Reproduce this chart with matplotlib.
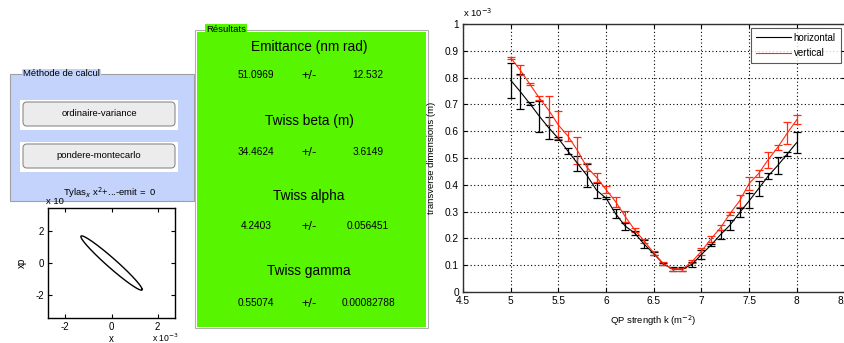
import numpy as np
import matplotlib
matplotlib.use("Agg")
import matplotlib.pyplot as plt
from matplotlib.patches import Rectangle, FancyBboxPatch

plt.rcParams['font.family'] = ['Liberation Sans', 'DejaVu Sans']
plt.rcParams['axes.unicode_minus'] = False

# ---- scan data: beam size vs quadrupole strength (units of 1e-3 m) ----
k_values = [5.0, 5.1, 5.2, 5.3, 5.4, 5.5, 5.6, 5.7, 5.8, 5.9, 6.0,
            6.1, 6.2, 6.3, 6.4, 6.5, 6.6, 6.7, 6.8, 6.9, 7.0,
            7.1, 7.2, 7.3, 7.4, 7.5, 7.6, 7.7, 7.8, 7.9, 8.0]
size_h = [0.790, 0.748, 0.703, 0.656, 0.612, 0.573, 0.526, 0.480, 0.435, 0.380, 0.350,
          0.292, 0.246, 0.220, 0.178, 0.143, 0.105, 0.085, 0.085, 0.103, 0.140,
          0.175, 0.214, 0.250, 0.296, 0.340, 0.386, 0.433, 0.472, 0.515, 0.558]
err_h = [0.066, 0.067, 0.006, 0.058, 0.040, 0.007, 0.010, 0.027, 0.042, 0.028, 0.004,
         0.017, 0.013, 0.009, 0.015, 0.005, 0.004, 0.008, 0.008, 0.009, 0.016,
         0.003, 0.017, 0.020, 0.017, 0.028, 0.028, 0.010, 0.032, 0.008, 0.038]
size_v = [0.874, 0.828, 0.776, 0.724, 0.678, 0.623, 0.582, 0.528, 0.465, 0.428, 0.382,
          0.337, 0.282, 0.232, 0.190, 0.146, 0.106, 0.085, 0.085, 0.113, 0.152,
          0.198, 0.240, 0.293, 0.340, 0.405, 0.442, 0.494, 0.540, 0.593, 0.643]
err_v = [0.004, 0.020, 0.005, 0.008, 0.054, 0.052, 0.020, 0.052, 0.015, 0.017, 0.014,
         0.019, 0.022, 0.008, 0.008, 0.008, 0.006, 0.006, 0.006, 0.006, 0.014,
         0.011, 0.010, 0.007, 0.022, 0.025, 0.012, 0.030, 0.010, 0.042, 0.017]
series_labels = ["horizontal", "vertical"]

# ---- fitted results ----
result_titles = ["Emittance (nm rad)", "Twiss beta (m)", "Twiss alpha", "Twiss gamma"]
result_values = ["51.0969", "34.4624", "4.2403", "0.55074"]
result_errors = ["12.532", "3.6149", "0.056451", "0.00082788"]
emittance_nm = 51.0969
beta_m = 34.4624
alpha_tw = 4.2403

method_buttons = ["ordinaire-variance", "pondere-montecarlo"]

W, H = 844, 343
fig = plt.figure(figsize=(W / 100, H / 100), dpi=100)

# background layer in pixel coordinates for the GUI panels
bg = fig.add_axes([0, 0, 1, 1])
bg.set_xlim(0, W)
bg.set_ylim(H, 0)
bg.axis('off')

# "Méthode de calcul" panel
bg.add_patch(Rectangle((10, 74), 184, 127, facecolor='#c3d3fb', edgecolor='#a0a0a0', lw=0.8))
bg.text(23, 74, "Méthode de calcul", fontsize=6.8, va='center', ha='left',
        bbox=dict(facecolor='#c3d3fb', edgecolor='none', pad=0.5))
for i, lab in enumerate(method_buttons):
    y0 = 101 + i * 42
    bg.add_patch(Rectangle((20, y0 - 1.5), 158, 30, facecolor='white', edgecolor='none'))
    bg.add_patch(FancyBboxPatch((23, y0 + 1), 152, 24,
                                boxstyle="round,pad=0,rounding_size=4",
                                facecolor='#ececec', edgecolor='#8a8a8a', lw=0.8))
    bg.text(99, y0 + 13, lab, fontsize=6.8, ha='center', va='center')

# "Résultats" panel
bg.add_patch(Rectangle((195, 30), 233, 298, facecolor='white', edgecolor='#b0b0b0', lw=0.8))
bg.add_patch(Rectangle((197, 32), 229, 295, facecolor='#57f500', edgecolor='none'))
bg.text(206, 29, "Résultats", fontsize=6.8, va='center', ha='left',
        bbox=dict(facecolor='#57f500', edgecolor='none', pad=0.5))
title_y = [47, 121, 196, 271]
row_y = [75, 152, 226, 303]
for t, v, e, ty, ry in zip(result_titles, result_values, result_errors, title_y, row_y):
    bg.text(309, ty, t, fontsize=9.8, ha='center', va='center')
    bg.text(256, ry, v, fontsize=7.3, ha='center', va='center')
    bg.text(309, ry + 1, "+/-", fontsize=9.3, ha='center', va='center')
    bg.text(368, ry, e, fontsize=7.3, ha='center', va='center')

# ---- phase-space ellipse from the Twiss parameters ----
ax_e = fig.add_axes([48 / W, 1 - 318 / H, 127 / W, 110 / H])
eps = emittance_nm * 1e-9
t = np.linspace(0, 2 * np.pi, 400)
x_e = np.sqrt(eps * beta_m) * np.cos(t)
xp_e = -np.sqrt(eps / beta_m) * (alpha_tw * np.cos(t) + np.sin(t))
ax_e.plot(x_e * 1e3, xp_e * 1e4, color='black', lw=1.0)
ax_e.set_xlim(-2.75, 2.75)
ax_e.set_ylim(-3.4, 3.4)
ax_e.set_xticks([-2, 0, 2])
ax_e.set_yticks([-2, 0, 2])
ax_e.tick_params(direction='in', top=True, right=True, labelsize=7, length=3, pad=3)
ax_e.set_ylabel("xp", fontsize=7, labelpad=6)
ax_e.set_xlabel("x", fontsize=7, labelpad=1)
for s in ax_e.spines.values():
    s.set_linewidth(1.0)
fig.text(55 / W, 1 - 201 / H, "x 10", fontsize=6.8, ha='center', va='center')
fig.text(110 / W, 1 - 193 / H, r"Tylas$_x$ x$^2$+...-emit =  0", fontsize=6.8,
         ha='center', va='center')
fig.text(152 / W, 1 - 338 / H, r"x 10$^{-3}$", fontsize=6.2, ha='left', va='center')

# ---- beam size scan ----
ax = fig.add_axes([463 / W, 1 - 292 / H, 381.5 / W, 268 / H])
ax.errorbar(k_values, size_h, yerr=err_h, color='black', lw=0.8, elinewidth=0.9,
            capsize=2.6, capthick=0.9, label=series_labels[0])
ax.errorbar(k_values, size_v, yerr=err_v, color='#ff2a10', lw=0.8, elinewidth=0.9,
            capsize=2.6, capthick=0.9, label=series_labels[1])
ax.set_xlim(4.5, 8.5)
ax.set_ylim(0, 1.0)
ax.set_xticks(np.arange(4.5, 8.51, 0.5))
ax.set_yticks(np.arange(0, 1.01, 0.1))
ax.set_xticklabels(["4.5", "5", "5.5", "6", "6.5", "7", "7.5", "8", "8.5"])
ax.set_yticklabels(["0", "0.1", "0.2", "0.3", "0.4", "0.5", "0.6", "0.7", "0.8", "0.9", "1"])
ax.grid(True, linestyle=(0, (1, 2.2)), color='black', lw=0.8)
ax.tick_params(direction='in', top=True, right=True, labelsize=7.3, length=3, pad=3)
for s in ax.spines.values():
    s.set_linewidth(1.0)
    s.set_color('#303030')
ax.set_xlabel(r"QP strength k (m$^{-2}$)", fontsize=6.8, labelpad=5)
ax.set_ylabel("transverse dimensions (m)", fontsize=6.8, labelpad=6)
ax.text(0.0, 1.02, r"x 10$^{-3}$", transform=ax.transAxes, fontsize=6.8,
        ha='left', va='bottom')
handles, labels = ax.get_legend_handles_labels()
handles = [h[0] for h in handles]
leg = ax.legend(handles, labels, loc='upper right', fontsize=7, frameon=True,
                fancybox=False, edgecolor='#303030', handlelength=3.6,
                borderaxespad=0.4, labelspacing=0.55, handletextpad=0.3,
                borderpad=0.5)
leg.get_frame().set_linewidth(0.8)

fig.savefig("out.png", dpi=100)
